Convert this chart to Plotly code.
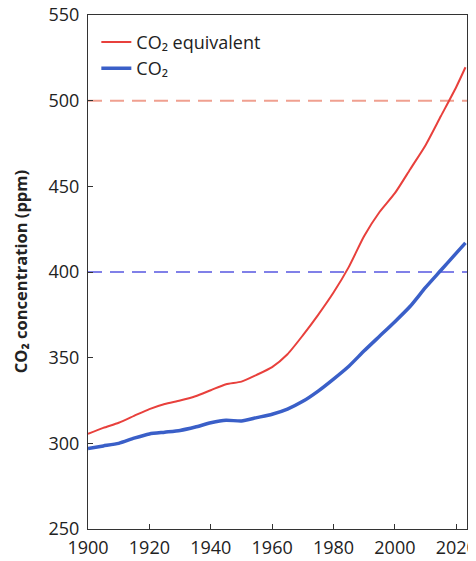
import plotly.graph_objects as go

years = [1900, 1905, 1910, 1915, 1920, 1925, 1930, 1935, 1940, 1945, 1950, 1955, 1960,
         1965, 1970, 1975, 1980, 1985, 1990, 1995, 2000, 2005, 2010, 2015, 2020, 2023]
co2_eq = [305.5, 309, 312, 316, 320, 323, 325, 327.5, 331, 334.5, 336, 340, 344.5,
          352, 363, 375, 388, 403, 421, 435, 446, 460, 474, 491, 508, 519.5]
co2 = [297, 298.5, 300, 303, 305.5, 306.5, 307.5, 309.5, 312, 313.5, 313, 315, 317,
       320, 324.5, 330.5, 337.5, 345, 354, 362.5, 371, 380, 391, 401, 411, 417]
ref_levels = [500, 400]
ref_colors = ["#f0a090", "#8080e8"]
x_ticks = [1900, 1920, 1940, 1960, 1980, 2000, 2020]
y_ticks = [250, 300, 350, 400, 450, 500, 550]

fig = go.Figure()
for lvl, col in zip(ref_levels, ref_colors):
    fig.add_trace(go.Scatter(x=[1900, 2023.5], y=[lvl, lvl], mode="lines",
                             line=dict(color=col, width=2, dash="14px,8px"),
                             showlegend=False, hoverinfo="skip"))
fig.add_trace(go.Scatter(x=years, y=co2_eq, mode="lines", name="CO₂ equivalent",
                         line=dict(color="#e8403c", width=2, shape="spline", smoothing=0.6)))
fig.add_trace(go.Scatter(x=years, y=co2, mode="lines", name="CO₂",
                         line=dict(color="#3a5fc8", width=3.5, shape="spline", smoothing=0.6)))

font_family = "Open Sans, Noto Sans, sans-serif"
fig.update_layout(
    width=468, height=553,
    margin=dict(l=80, r=9, t=7, b=32),
    paper_bgcolor="white", plot_bgcolor="white",
    font=dict(family=font_family, size=15, color="#222"),
    legend=dict(x=0.022, y=0.983, xanchor="left", yanchor="top",
                bgcolor="rgba(0,0,0,0)", font=dict(size=18, color="#222"),
                itemwidth=30, tracegroupgap=0),
    xaxis=dict(range=[1900, 2023.5], tickvals=x_ticks, showgrid=False, zeroline=False,
               showline=True, linecolor="#333", linewidth=1.2, mirror=True,
               ticks="inside", ticklen=5, tickcolor="#333", automargin=False,
               ticklabeloverflow="allow", ticklabelstandoff=2,
               tickfont=dict(size=18, color="#222")),
    yaxis=dict(range=[250, 550], tickvals=y_ticks, showgrid=False, zeroline=False,
               showline=True, linecolor="#333", linewidth=1.2, mirror=True,
               ticks="inside", ticklen=5, tickcolor="#333", automargin=False,
               ticklabeloverflow="allow", ticklabelstandoff=4,
               tickfont=dict(size=18, color="#222")),
    annotations=[dict(text="<b>CO₂ concentration (ppm)</b>", textangle=-90,
                      xref="paper", yref="paper", x=-0.179, y=0.5,
                      xanchor="center", yanchor="middle", showarrow=False,
                      font=dict(size=16.5, color="#222"))],
)
fig.write_html("out.html")
